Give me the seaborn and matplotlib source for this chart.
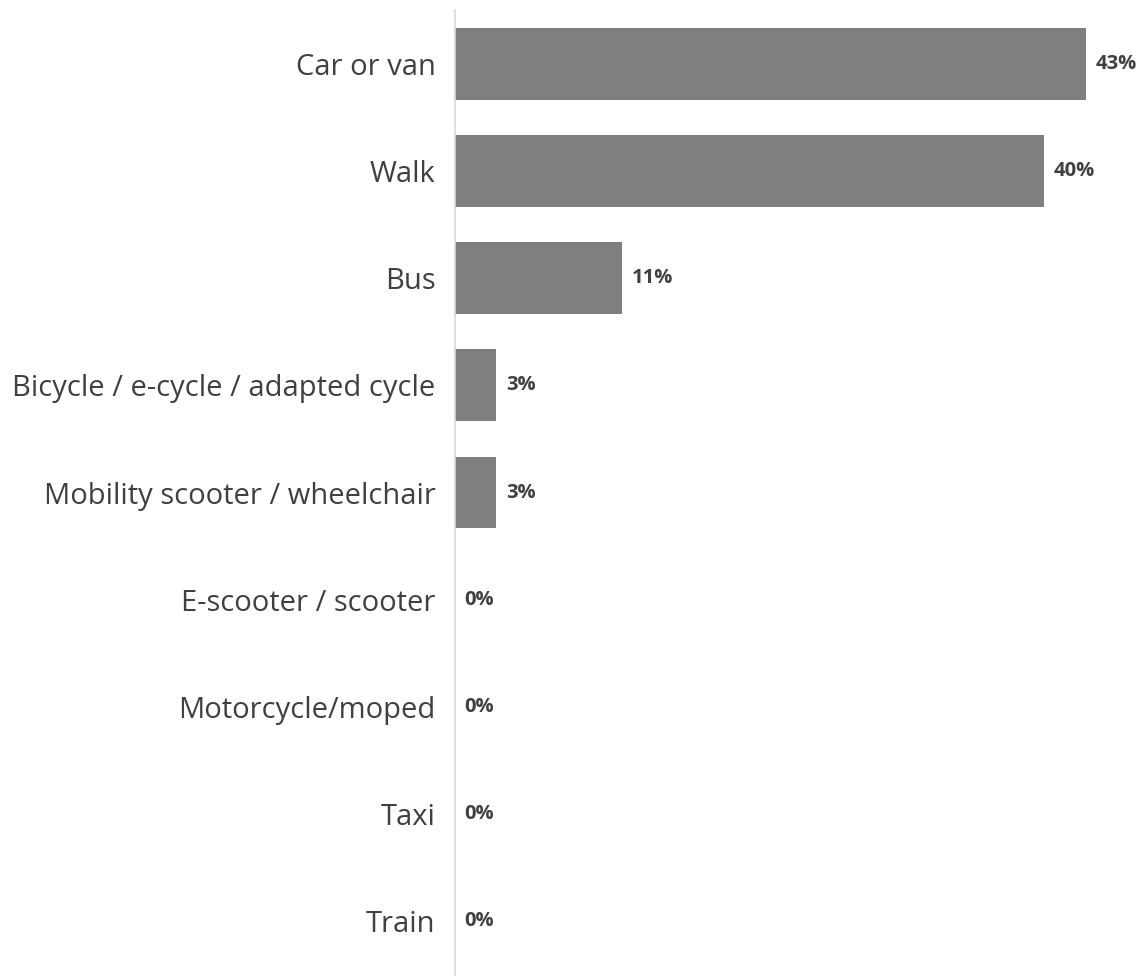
import matplotlib
matplotlib.use("Agg")
import matplotlib.pyplot as plt
import seaborn as sns
import pandas as pd

# data
modes = ["Car or van", "Walk", "Bus", "Bicycle / e-cycle / adapted cycle",
         "Mobility scooter / wheelchair", "E-scooter / scooter",
         "Motorcycle/moped", "Taxi", "Train"]
shares = [43.0, 40.1, 11.4, 2.8, 2.8, 0, 0, 0, 0]

df = pd.DataFrame({"mode": modes, "share": shares})

sns.set_theme(style="white")
plt.rcParams["font.family"] = ["Open Sans", "DejaVu Sans"]

fig = plt.figure(figsize=(11.45, 9.77), dpi=100)
ax = fig.add_axes([0.3974, 0.002, 0.6026, 0.9878])

sns.barplot(data=df, x="share", y="mode", color="#7f7f7f", saturation=1,
            width=0.67, linewidth=0, ax=ax)

for i, v in enumerate(shares):
    ax.annotate(f"{round(v):.0f}%", xy=(v, i), xytext=(7, 0),
                textcoords="offset points", va="center", ha="left",
                fontsize=14.5, fontweight="bold", color="#404040")

ax.set_xlim(0, 47)
ax.set_ylim(8.5, -0.5)
ax.set_xlabel("")
ax.set_ylabel("")
ax.set_xticks([])
for s in ["top", "right", "bottom"]:
    ax.spines[s].set_visible(False)
ax.spines["left"].set_color("#d9d9d9")
ax.spines["left"].set_linewidth(1.2)
ax.tick_params(axis="y", length=0, pad=14, labelsize=21, labelcolor="#404040")

fig.savefig("out.png", dpi=100)
